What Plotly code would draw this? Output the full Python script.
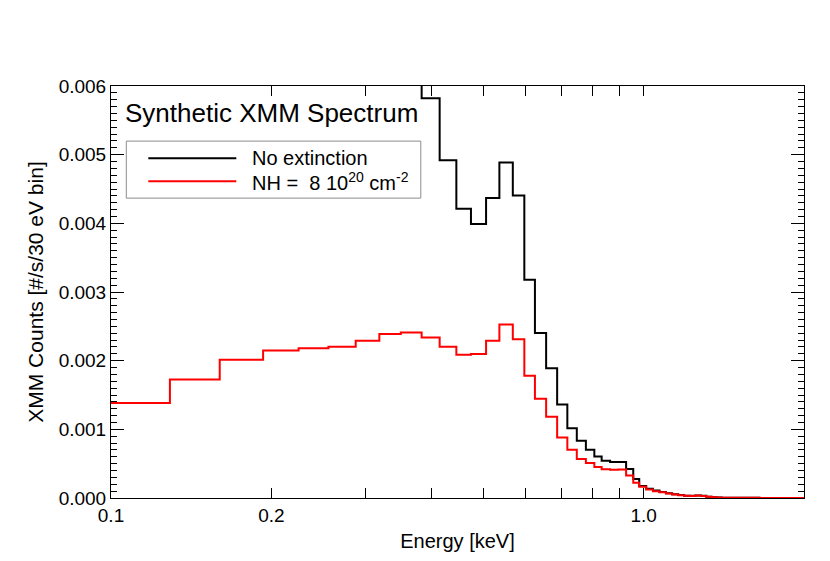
import plotly.graph_objects as go

FONT = 'Liberation Sans, Arial, sans-serif'

# bin edges [keV] (roughly 30 eV wide)
edges = [0.100, 0.129, 0.160, 0.193, 0.225, 0.256, 0.288, 0.319, 0.350, 0.383,
	0.414, 0.445, 0.474, 0.506, 0.536, 0.568, 0.597, 0.625, 0.656, 0.688,
	0.719, 0.749, 0.779, 0.808, 0.834, 0.865, 0.896, 0.927, 0.956, 0.981,
	1.011, 1.041, 1.071, 1.101, 1.131, 1.161, 1.191, 1.221, 1.251, 1.281,
	1.311, 1.341, 1.371, 1.401, 1.50, 1.65, 1.80, 2.0]

# counts per bin, no absorption (goes off the top below 0.38 keV)
no_ext = [0.0300, 0.0250, 0.0200, 0.0160, 0.0130, 0.0110, 0.0090, 0.0075, 0.0066,
	0.005823, 0.004918, 0.004212, 0.003991, 0.004370, 0.004885, 0.004404,
	0.003178, 0.002402, 0.001889, 0.001360, 0.001014, 0.000832, 0.000702,
	0.000606, 0.000544, 0.000524, 0.000524, 0.000423, 0.000278, 0.000173,
	0.000135, 0.000108, 0.000088, 0.000070, 0.000055, 0.000042, 0.000033,
	0.000031, 0.000037, 0.000031, 0.000019, 0.000011, 0.000006,
	0.000004, 0.000002, 0.000001, 0.0000005]

# counts per bin, NH = 8e20 cm^-2
nh_8e20 = [0.001385, 0.001727, 0.002015, 0.002149, 0.002182, 0.002202, 0.002289,
	0.002387, 0.002409,
	0.002337, 0.002202, 0.002087, 0.002096, 0.002289, 0.002528, 0.002312,
	0.001781, 0.001447, 0.001183, 0.000880, 0.000702, 0.000567, 0.000509,
	0.000451, 0.000420, 0.000412, 0.000414, 0.000327, 0.000221, 0.000163,
	0.000125, 0.000100, 0.000082, 0.000066, 0.000052, 0.000040, 0.000032,
	0.000030, 0.000036, 0.000030, 0.000018, 0.000010, 0.000006,
	0.000004, 0.000002, 0.000001, 0.0000005]

x_ticks = [0.1, 0.2, 0.3, 0.4, 0.5, 0.6, 0.7, 0.8, 0.9, 1.0, 2.0]
x_tick_text = ['0.1', '0.2', '', '', '', '', '', '', '', '1.0', '']

series_names = ['No extinction', 'NH =  8 10<sup>20</sup> cm<sup>-2</sup>']
series_colors = ['black', '#ff0000']

# the page body has an 8px margin, so the figure is made 8px smaller
OFF = 8
W, H = 830 - OFF, 561 - OFF

# plot area in window pixels, used to place the hand drawn legend
L, R, T, B = 110.7, 803.7, 86.0, 502.3

def px(x):
	return (x - L) / (R - L)

def py(y):
	return (B - y) / (B - T)

def step_trace(vals, color, name, yaxis='y', opacity=1):
	return go.Scatter(
		x=edges,
		y=vals + [vals[-1]],
		mode='lines',
		line=dict(color=color, width=2, shape='hv'),
		name=name,
		yaxis=yaxis,
		opacity=opacity,
		hoverinfo='skip' if opacity == 0 else None,
		showlegend=False
	)

fig = go.Figure([
	step_trace(no_ext, series_colors[0], series_names[0]),
	step_trace(nh_8e20, series_colors[1], series_names[1]),
	# invisible copy so the right hand axis (with minor ticks) gets drawn
	step_trace(nh_8e20, series_colors[1], series_names[1], yaxis='y2', opacity=0),
])

axis_common = dict(
	showgrid=False, zeroline=False,
	showline=True, linecolor='black', linewidth=1,
	ticks='inside', tickcolor='black', tickwidth=1,
	tickfont=dict(family=FONT, size=19, color='black'),
)
y_minor = dict(dtick=0.0001, tick0=0, ticklen=6, ticks='inside', tickcolor='black', tickwidth=1)

fig.update_layout(
	xaxis=dict(
		type='log', range=[-1, 0.30103], mirror='ticks',
		tickvals=x_ticks, ticktext=x_tick_text, ticklen=10,
		title=dict(text='Energy [keV]', font=dict(family=FONT, size=20, color='black'), standoff=9),
		**axis_common
	),
	yaxis=dict(
		range=[0, 0.006], dtick=0.001, tickformat='.3f', ticklen=13, mirror=True,
		minor=y_minor,
		title=dict(text='XMM Counts [#/s/30 eV bin]', font=dict(family=FONT, size=21, color='black'), standoff=9),
		**axis_common
	),
	yaxis2=dict(
		overlaying='y', side='right', range=[0, 0.006], dtick=0.001, ticklen=13,
		minor=y_minor, showticklabels=False,
		**axis_common
	),
)

shapes = [dict(type='rect', xref='paper', yref='paper',
	x0=px(126), x1=px(420.5), y0=py(199.3), y1=py(141.7),
	line=dict(color='#8c8c8c', width=1), fillcolor='white', layer='below')]
annotations = [dict(text='Synthetic XMM Spectrum', xref='paper', yref='paper',
	x=px(123), y=py(113), xanchor='left', yanchor='middle', showarrow=False,
	font=dict(family=FONT, size=26, color='black'))]
for i, (name, color) in enumerate(zip(series_names, series_colors)):
	yy = 159 + i * 23.3
	shapes.append(dict(type='line', xref='paper', yref='paper',
		x0=px(148), x1=px(236), y0=py(yy), y1=py(yy),
		line=dict(color=color, width=2)))
	annotations.append(dict(text=name, xref='paper', yref='paper',
		x=px(250), y=py(yy), xanchor='left', yanchor='middle', showarrow=False,
		font=dict(family=FONT, size=20, color='black')))

fig.update_layout(
	width=W, height=H,
	margin=dict(l=L - OFF, r=830 - R, t=T - OFF, b=561 - B, pad=0),
	plot_bgcolor='white', paper_bgcolor='white',
	shapes=shapes, annotations=annotations,
	showlegend=False,
)

fig.write_html('out.html')
